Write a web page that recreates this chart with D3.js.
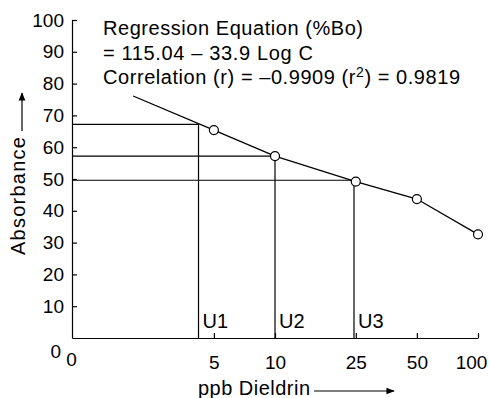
<!DOCTYPE html>
<html><head><meta charset="utf-8">
<script src="https://cdn.jsdelivr.net/npm/d3@7"></script>
<style>
html,body{margin:0;padding:0;background:#fff;}
svg{display:block;font-family:"Liberation Sans",Arial,Helvetica,sans-serif;}
</style></head>
<body>
<svg id="chart" width="490" height="398"></svg>
<script>
// ---- data ----
const concentrations = [5, 10, 25, 50, 100];
const absorbance = [65.4, 57.2, 49.2, 43.7, 32.6];
const lineStart = {c: 2, v: 76.1};
const unknownNames = ["U1", "U2", "U3"];
const unknownConc = [4.2, 10, 24.5];
const unknownAbs = [67.2, 57.2, 49.6];
const xTickValues = [1, 5, 10, 25, 50, 100];
const xTickLabels = ["0", "5", "10", "25", "50", "100"];
const yTickValues = [0, 10, 20, 30, 40, 50, 60, 70, 80, 90, 100];
const annotationLines = [
  "Regression Equation (%Bo)",
  "= 115.04 \u2013 33.9 Log C"
];

// ---- layout ----
const svg = d3.select("#chart");
const x = d3.scaleLog().domain([1, 100]).range([72, 478]);
const y = d3.scaleLinear().domain([0, 100]).range([338, 20]);
const FS = 19;
const FT = 20;

function fit(sel, target) {
  const n = sel.text().length;
  const w = sel.node().getComputedTextLength();
  sel.attr("letter-spacing", ((target - w) / (n - 1)).toFixed(2));
}

// y axis
const yAxis = svg.append("g").attr("transform", `translate(${x(1)},0)`)
  .call(d3.axisLeft(y).tickValues(yTickValues).tickSize(-5).tickSizeOuter(0).tickPadding(8).tickFormat(d3.format("d")));
yAxis.selectAll("text").attr("font-size", FS).attr("font-family", null).attr("fill", "#000");
yAxis.selectAll("line").attr("stroke", "#000").attr("stroke-width", 1.2);
yAxis.select(".domain").attr("stroke", "#000").attr("stroke-width", 1.2);
yAxis.selectAll(".tick").filter(d => d === 0).each(function () {
  d3.select(this).select("line").remove();
  d3.select(this).select("text").attr("dx", -3).attr("dy", "1.05em");
});

// x axis
const xAxis = svg.append("g").attr("transform", `translate(0,${y(0)})`)
  .call(d3.axisBottom(x).tickValues(xTickValues).tickSize(-5).tickSizeOuter(0).tickPadding(18)
    .tickFormat((d, i) => xTickLabels[i]));
xAxis.selectAll("text").attr("font-size", FS).attr("font-family", null).attr("fill", "#000");
xAxis.selectAll("line").attr("stroke", "#000").attr("stroke-width", 1.2);
xAxis.select(".domain").attr("stroke", "#000").attr("stroke-width", 1.2);
xAxis.selectAll(".tick").filter(d => d === 1).each(function () {
  d3.select(this).select("line").remove();
  d3.select(this).select("text").attr("dx", -1).attr("y", 15);
});
xAxis.selectAll(".tick").filter(d => d === 100).select("text").attr("dx", -7);

// unknown guide lines
const g = svg.append("g").attr("stroke", "#000").attr("stroke-width", 1.2).attr("fill", "none");
unknownConc.forEach((c, i) => {
  g.append("line").attr("x1", x(1)).attr("x2", x(c)).attr("y1", y(unknownAbs[i])).attr("y2", y(unknownAbs[i]));
  g.append("line").attr("x1", x(c)).attr("x2", x(c)).attr("y1", y(unknownAbs[i])).attr("y2", y(0));
  svg.append("text").attr("x", x(c) + 4).attr("y", 328).attr("font-size", FT).text(unknownNames[i]);
});

// regression / data line
const pts = [[lineStart.c, lineStart.v]].concat(concentrations.map((c, i) => [c, absorbance[i]]));
svg.append("path").datum(pts)
  .attr("d", d3.line().x(d => x(d[0])).y(d => y(d[1])))
  .attr("fill", "none").attr("stroke", "#000").attr("stroke-width", 1.3);
svg.selectAll("circle.pt").data(concentrations).join("circle").attr("class", "pt")
  .attr("cx", d => x(d)).attr("cy", (d, i) => y(absorbance[i])).attr("r", 4.5)
  .attr("fill", "#fff").attr("stroke", "#000").attr("stroke-width", 1.2);

// annotation
const t1 = svg.append("text").attr("x", 103).attr("y", 35).attr("font-size", FT).text(annotationLines[0]);
fit(t1, 260);
const t2 = svg.append("text").attr("x", 103).attr("y", 60).attr("font-size", FT).text(annotationLines[1]);
fit(t2, 210);
const t3 = svg.append("text").attr("x", 103).attr("y", 84).attr("font-size", FT);
t3.append("tspan").text("Correlation (r) = \u20130.9909 (r");
t3.append("tspan").attr("font-size", 14).attr("dy", -7).text("2");
t3.append("tspan").attr("dy", 7).text(") = 0.9819");
fit(t3, 357);

// axis titles
const defs = svg.append("defs");
defs.append("marker").attr("id", "ah").attr("viewBox", "0 0 10 10").attr("refX", 9).attr("refY", 5)
  .attr("markerWidth", 7).attr("markerHeight", 7).attr("orient", "auto-start-reverse")
  .append("path").attr("d", "M0,1 L10,5 L0,9 Z").attr("fill", "#000");

const xt = svg.append("text").attr("x", 198).attr("y", 395).attr("font-size", FT).text("ppb Dieldrin");
fit(xt, 112);
svg.append("line").attr("x1", 314).attr("x2", 394).attr("y1", 391).attr("y2", 391)
  .attr("stroke", "#000").attr("stroke-width", 1.2).attr("marker-end", "url(#ah)");

const yt = svg.append("text").attr("transform", "translate(25,255) rotate(-90)").attr("font-size", FT).text("Absorbance");
fit(yt, 118);
svg.append("line").attr("x1", 22).attr("x2", 22).attr("y1", 131).attr("y2", 93)
  .attr("stroke", "#000").attr("stroke-width", 1.2).attr("marker-end", "url(#ah)");
</script>
</body></html>
